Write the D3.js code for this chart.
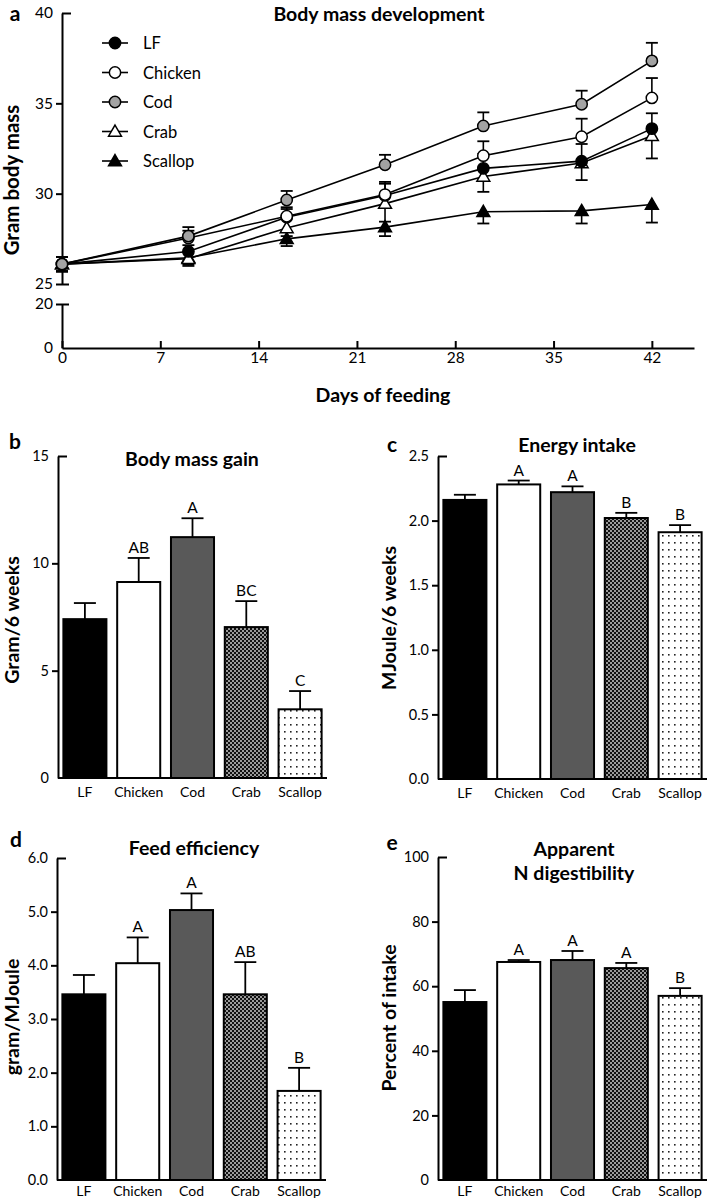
<!DOCTYPE html>
<html><head><meta charset="utf-8">
<script src="https://cdn.jsdelivr.net/npm/d3@7"></script>
<style>
body{margin:0;background:#fff}
svg{display:block;font-family:Lato,'Open Sans',sans-serif}
</style>
</head><body>
<svg id="chart" width="708" height="1200"></svg>
<script>
// ---------- DATA ----------
const days = [0, 9, 16, 23, 30, 37, 42];
const seriesNames = ["LF", "Chicken", "Cod", "Crab", "Scallop"];
const massLF      = [26.1, 26.8, 28.7, 29.9, 31.4, 31.8, 33.6];
const massChicken = [26.1, 27.55, 28.75, 29.95, 32.1, 33.15, 35.3];
const massCod     = [26.1, 27.65, 29.65, 31.6, 33.75, 34.95, 37.35];
const massCrab    = [26.1, 26.4, 28.1, 29.45, 30.95, 31.7, 33.2];
const massScallop = [26.1, 26.45, 27.5, 28.15, 29.0, 29.05, 29.4];
const errLF      = [0.4, 0.35, 0.45, 0.65, 0.8, 0.95, 0.85];
const errChicken = [0.4, 0.4, 0.5, 0.7, 0.8, 1.0, 1.1];
const errCod     = [0.4, 0.5, 0.5, 0.55, 0.75, 0.75, 1.0];
const errCrab    = [0.4, 0.4, 0.45, 1.0, 0.85, 0.95, 1.25];
const errScallop = [0.4, 0.35, 0.4, 0.5, 0.65, 0.7, 1.0];
const massTicksUpper = [25, 30, 35, 40];
const massTicksLower = [0, 20];
const dayTicks = [0, 7, 14, 21, 28, 35, 42];

const categories = ["LF", "Chicken", "Cod", "Crab", "Scallop"];
const gainValues  = [7.4, 9.13, 11.22, 7.03, 3.2];
const gainErrors  = [0.75, 1.12, 0.88, 1.21, 0.85];
const gainLetters = ["", "AB", "A", "BC", "C"];
const gainTicks   = [0, 5, 10, 15];

const energyValues  = [2.16, 2.28, 2.22, 2.02, 1.91];
const energyErrors  = [0.04, 0.03, 0.045, 0.04, 0.055];
const energyLetters = ["", "A", "A", "B", "B"];
const energyTicks   = [0, 0.5, 1.0, 1.5, 2.0, 2.5];

const feedValues  = [3.46, 4.04, 5.03, 3.46, 1.66];
const feedErrors  = [0.36, 0.48, 0.31, 0.6, 0.43];
const feedLetters = ["", "A", "A", "AB", "B"];
const feedTicks   = [0, 1, 2, 3, 4, 5, 6];

const digValues  = [55.1, 67.5, 68.1, 65.6, 57.0];
const digErrors  = [3.7, 0.6, 2.8, 1.6, 2.4];
const digLetters = ["", "A", "A", "A", "B"];
const digTicks   = [0, 20, 40, 60, 80, 100];

// ---------- SETUP ----------
const svg = d3.select("#chart");
const defs = svg.append("defs");
const crab = defs.append("pattern").attr("id", "crabPat").attr("patternUnits", "userSpaceOnUse")
  .attr("width", 4).attr("height", 4);
crab.append("rect").attr("width", 4).attr("height", 4).attr("fill", "#111");
crab.append("rect").attr("x", 0).attr("y", 0).attr("width", 2).attr("height", 2).attr("fill", "#9a9a9a");
crab.append("rect").attr("x", 2).attr("y", 2).attr("width", 2).attr("height", 2).attr("fill", "#9a9a9a");
const scal = defs.append("pattern").attr("id", "scalPat").attr("patternUnits", "userSpaceOnUse")
  .attr("width", 6).attr("height", 7);
scal.append("rect").attr("width", 6).attr("height", 7).attr("fill", "#fff");
scal.append("rect").attr("x", 2).attr("y", 3).attr("width", 1.6).attr("height", 1.6).attr("fill", "#222");

function styleAxis(g) {
  g.selectAll("path.domain").attr("stroke", "#000").attr("stroke-width", 2);
  g.selectAll(".tick line").attr("stroke", "#000").attr("stroke-width", 2);
  g.selectAll(".tick text").attr("fill", "#000");
}

// ---------- PANEL A ----------
const xA = d3.scaleLinear().domain([0, 45]).range([62, 694]);
const yUp = d3.scaleLinear().domain([25, 40]).range([284, 13]);
const yLow = d3.scaleLinear().domain([0, 20]).range([348, 304]);
const yA = v => v >= 25 ? yUp(v) : yLow(v);

const gxA = svg.append("g").attr("transform", "translate(0,348)")
  .call(d3.axisBottom(xA).tickValues(dayTicks).tickSize(-7).tickSizeOuter(0).tickPadding(4))
  .attr("font-size", 15.5).attr("font-family", "Lato");
styleAxis(gxA);

const gyU = svg.append("g").attr("transform", "translate(62,0)")
  .call(d3.axisLeft(yUp).tickValues(massTicksUpper).tickSize(6).tickSizeOuter(0).tickPadding(3))
  .attr("font-size", 15.5).attr("font-family", "Lato");
styleAxis(gyU);
gyU.selectAll(".tick").filter(d => d === 40).select("line").attr("x2", 9);
gyU.selectAll(".tick").filter(d => d === 25).select("line").attr("x1", -6).attr("x2", 7);

const gyL = svg.append("g").attr("transform", "translate(62,0)")
  .call(d3.axisLeft(yLow).tickValues(massTicksLower).tickSize(6).tickSizeOuter(0).tickPadding(3))
  .attr("font-size", 15.5).attr("font-family", "Lato");
styleAxis(gyL);
gyL.selectAll(".tick").filter(d => d === 20).select("line").attr("x1", -6).attr("x2", 7);
gyL.selectAll(".tick").filter(d => d === 0).select("line").remove();

const seriesData = {
  LF: {v: massLF, e: errLF, dir: 1, shape: d3.symbolCircle, fill: "#000"},
  Chicken: {v: massChicken, e: errChicken, dir: 1, shape: d3.symbolCircle, fill: "#fff"},
  Cod: {v: massCod, e: errCod, dir: 1, shape: d3.symbolCircle, fill: "#a3a3a3"},
  Crab: {v: massCrab, e: errCrab, dir: -1, shape: d3.symbolTriangle, fill: "#fff"},
  Scallop: {v: massScallop, e: errScallop, dir: -1, shape: d3.symbolTriangle, fill: "#000"}
};
const drawOrder = ["Scallop", "Crab", "LF", "Chicken", "Cod"];
const line = d3.line().x(d => xA(d[0])).y(d => yA(d[1]));
const gl = svg.append("g");
drawOrder.forEach(n => {
  const s = seriesData[n];
  gl.append("path").datum(days.map((d, i) => [d, s.v[i]]))
    .attr("d", line).attr("fill", "none").attr("stroke", "#000").attr("stroke-width", 1.6);
});
drawOrder.forEach(n => {
  const s = seriesData[n];
  days.forEach((d, i) => {
    const x = xA(d), y0 = yA(s.v[i]);
    const ys = [s.dir * s.e[i]];
    if (i === 0) ys.push(-s.dir * s.e[i]);
    ys.forEach(err => {
      const y1 = yA(s.v[i] + err);
      gl.append("line").attr("x1", x).attr("x2", x).attr("y1", y0).attr("y2", y1)
        .attr("stroke", "#000").attr("stroke-width", 1.6);
      gl.append("line").attr("x1", x - 6).attr("x2", x + 6).attr("y1", y1).attr("y2", y1)
        .attr("stroke", "#000").attr("stroke-width", 1.8);
    });
  });
});
drawOrder.forEach(n => {
  const s = seriesData[n];
  const sym = d3.symbol().type(s.shape).size(s.shape === d3.symbolCircle ? 100 : 72);
  days.forEach((d, i) => {
    gl.append("path").attr("d", sym())
      .attr("transform", `translate(${xA(d)},${yA(s.v[i]) + (s.shape === d3.symbolTriangle ? 1 : 0)})`)
      .attr("fill", s.fill).attr("stroke", "#000").attr("stroke-width", 1.5);
  });
});

// legend
const lg = svg.append("g");
seriesNames.forEach((n, i) => {
  const s = seriesData[n];
  const y = 43 + i * 29.5;
  lg.append("line").attr("x1", 102).attr("x2", 128).attr("y1", y).attr("y2", y)
    .attr("stroke", "#000").attr("stroke-width", 1.6);
  lg.append("path").attr("d", d3.symbol().type(s.shape).size(s.shape === d3.symbolCircle ? 100 : 72)())
    .attr("transform", `translate(115,${y + (s.shape === d3.symbolTriangle ? 1 : 0)})`)
    .attr("fill", s.fill).attr("stroke", "#000").attr("stroke-width", 1.5);
  lg.append("text").attr("x", 143).attr("y", y).attr("dominant-baseline", "central")
    .attr("font-size", 16.5).text(n);
});

function txt(x, y, s, size, bold, rot) {
  const t = svg.append("text").attr("dominant-baseline", "central").attr("text-anchor", "middle")
    .attr("font-size", size).attr("font-weight", bold ? "bold" : "normal").text(s);
  if (rot) t.attr("transform", `translate(${x},${y}) rotate(-90)`);
  else t.attr("x", x).attr("y", y);
  return t;
}
txt(15, 12, "a", 21, true);
txt(379, 13, "Body mass development", 19.5, true);
txt(383, 394, "Days of feeding", 19.5, true);
txt(11, 180, "Gram body mass", 20.5, true, true);

// ---------- BAR PANELS ----------
const barFills = ["#000", "#fff", "#595959", "url(#crabPat)", "url(#scalPat)"];
function barPanel(o) {
  const g = svg.append("g");
  const y = d3.scaleLinear().domain([o.ticks[0], o.ticks[o.ticks.length - 1]]).range([o.y0, o.y1]);
  const x = d3.scaleBand().domain(categories).range([o.ax, o.ax + 269]).paddingInner(0.2).paddingOuter(0.1);
  g.selectAll("rect.bar").data(categories).enter().append("rect")
    .attr("x", c => x(c)).attr("width", x.bandwidth())
    .attr("y", (c, i) => y(o.values[i])).attr("height", (c, i) => o.y0 - y(o.values[i]))
    .attr("fill", (c, i) => barFills[i]).attr("stroke", "#000").attr("stroke-width", 2);
  categories.forEach((c, i) => {
    const xc = x(c) + x.bandwidth() / 2;
    const yt = y(o.values[i] + o.errors[i]);
    g.append("line").attr("x1", xc).attr("x2", xc).attr("y1", y(o.values[i])).attr("y2", yt)
      .attr("stroke", "#000").attr("stroke-width", 1.8);
    g.append("line").attr("x1", xc - 11).attr("x2", xc + 11).attr("y1", yt).attr("y2", yt)
      .attr("stroke", "#000").attr("stroke-width", 1.8);
    if (o.letters[i]) g.append("text").attr("x", xc).attr("y", yt - 5).attr("text-anchor", "middle")
      .attr("font-size", 15.5).text(o.letters[i]);
  });
  const gy = g.append("g").attr("transform", `translate(${o.ax},0)`)
    .call(d3.axisLeft(y).tickValues(o.ticks).tickFormat(o.fmt).tickSize(6).tickSizeOuter(0).tickPadding(3))
    .attr("font-size", 14.5).attr("font-family", "Lato");
  styleAxis(gy);
  const top = o.ticks[o.ticks.length - 1];
  gy.selectAll(".tick").filter(d => d === top).select("line").attr("x2", 9);
  gy.selectAll(".tick").filter(d => d === o.ticks[0]).select("line").remove();
  const gx = g.append("g").attr("transform", `translate(0,${o.y0})`)
    .call(d3.axisBottom(x).tickSize(0).tickSizeOuter(0).tickPadding(o.xpad))
    .attr("font-size", 14).attr("font-family", "Lato");
  styleAxis(gx);
  gx.select("path.domain").attr("d", `M${o.ax},0H${o.ax + 269}`);
  txt(o.lx, o.ly, o.label, 21, true);
  o.title.forEach((t, k) => txt(o.tx, o.ty + k * 24, t, 19.5, true));
  txt(o.yx, o.yy, o.ytitle, 19.5, true, true);
}

barPanel({ax: 58, y0: 778, y1: 456, ticks: gainTicks, fmt: d3.format("d"),
  values: gainValues, errors: gainErrors, letters: gainLetters, xpad: 9,
  label: "b", lx: 15, ly: 440, title: ["Body mass gain"], tx: 192, ty: 458,
  ytitle: "Gram/6 weeks", yx: 11, yy: 620});
barPanel({ax: 438, y0: 779, y1: 456, ticks: energyTicks, fmt: d3.format(".1f"),
  values: energyValues, errors: energyErrors, letters: energyLetters, xpad: 9,
  label: "c", lx: 392, ly: 443, title: ["Energy intake"], tx: 577, ty: 444,
  ytitle: "MJoule/6 weeks", yx: 388, yy: 618});
barPanel({ax: 57, y0: 1180, y1: 858, ticks: feedTicks, fmt: d3.format(".1f"),
  values: feedValues, errors: feedErrors, letters: feedLetters, xpad: 6,
  label: "d", lx: 16, ly: 838, title: ["Feed efficiency"], tx: 194, ty: 847,
  ytitle: "gram/MJoule", yx: 11, yy: 1017});
barPanel({ax: 438, y0: 1180, y1: 857, ticks: digTicks, fmt: d3.format("d"),
  values: digValues, errors: digErrors, letters: digLetters, xpad: 6,
  label: "e", lx: 392, ly: 841, title: ["Apparent", "N digestibility"], tx: 574, ty: 848,
  ytitle: "Percent of intake", yx: 388, yy: 1018});
</script>
</body></html>
